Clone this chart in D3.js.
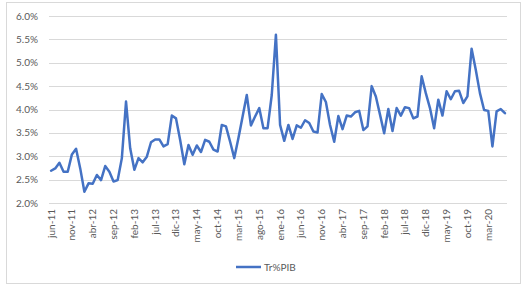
<!DOCTYPE html>
<html>
<head>
<meta charset="utf-8">
<script src="https://cdn.jsdelivr.net/npm/d3@7"></script>
<style>
  body { margin: 0; background: #fff; }
  svg { font-family: Lato, "Open Sans", sans-serif; }
</style>
</head>
<body>
<svg id="chart"></svg>
<script>
// months, jun-11 .. jul-20
const categories = [
  "jun-11","jul-11","ago-11","sep-11","oct-11","nov-11","dic-11",
  "ene-12","feb-12","mar-12","abr-12","may-12","jun-12","jul-12","ago-12","sep-12","oct-12","nov-12","dic-12",
  "ene-13","feb-13","mar-13","abr-13","may-13","jun-13","jul-13","ago-13","sep-13","oct-13","nov-13","dic-13",
  "ene-14","feb-14","mar-14","abr-14","may-14","jun-14","jul-14","ago-14","sep-14","oct-14","nov-14","dic-14",
  "ene-15","feb-15","mar-15","abr-15","may-15","jun-15","jul-15","ago-15","sep-15","oct-15","nov-15","dic-15",
  "ene-16","feb-16","mar-16","abr-16","may-16","jun-16","jul-16","ago-16","sep-16","oct-16","nov-16","dic-16",
  "ene-17","feb-17","mar-17","abr-17","may-17","jun-17","jul-17","ago-17","sep-17","oct-17","nov-17","dic-17",
  "ene-18","feb-18","mar-18","abr-18","may-18","jun-18","jul-18","ago-18","sep-18","oct-18","nov-18","dic-18",
  "ene-19","feb-19","mar-19","abr-19","may-19","jun-19","jul-19","ago-19","sep-19","oct-19","nov-19","dic-19",
  "ene-20","feb-20","mar-20","abr-20","may-20","jun-20","jul-20"
];

// Tr%PIB, in %
const trPib = [
  2.69, 2.74, 2.86, 2.67, 2.67, 3.04, 3.16,
  2.74, 2.24, 2.42, 2.41, 2.60, 2.49, 2.79, 2.67, 2.46, 2.49, 2.96, 4.17,
  3.17, 2.71, 2.96, 2.87, 2.99, 3.30, 3.36, 3.36, 3.21, 3.26, 3.87, 3.81,
  3.35, 2.83, 3.24, 3.03, 3.23, 3.09, 3.35, 3.31, 3.14, 3.10, 3.67, 3.64,
  3.31, 2.96, 3.39, 3.85, 4.31, 3.66, 3.85, 4.03, 3.60, 3.60, 4.31, 5.60,
  3.67, 3.33, 3.67, 3.37, 3.66, 3.61, 3.77, 3.71, 3.53, 3.51, 4.33, 4.16,
  3.67, 3.31, 3.86, 3.58, 3.87, 3.85, 3.94, 3.97, 3.56, 3.64, 4.50, 4.28,
  3.89, 3.49, 4.01, 3.54, 4.03, 3.87, 4.05, 4.03, 3.81, 3.85, 4.71, 4.35,
  4.03, 3.60, 4.21, 3.87, 4.39, 4.22, 4.39, 4.40, 4.14, 4.28, 5.30, 4.85,
  4.35, 3.99, 3.97, 3.21, 3.96, 4.01, 3.92
];

const yTicks = [2.0, 2.5, 3.0, 3.5, 4.0, 4.5, 5.0, 5.5, 6.0];
const seriesName = "Tr%PIB";

const W = 526, H = 287;
const margin = { top: 16, right: 19, bottom: 84, left: 49 };

const svg = d3.select("#chart")
  .attr("width", W)
  .attr("height", H);

// chart area border
svg.append("rect")
  .attr("x", 6.5).attr("y", 2.5)
  .attr("width", 514).attr("height", 281)
  .attr("fill", "#fff")
  .attr("stroke", "#d9d9d9");

const x = d3.scaleBand()
  .domain(categories)
  .range([margin.left, W - margin.right]);

const y = d3.scaleLinear()
  .domain([2.0, 6.0])
  .range([H - margin.bottom, margin.top]);

// gridlines
svg.append("g")
  .selectAll("line")
  .data(yTicks)
  .enter()
  .append("line")
  .attr("x1", margin.left)
  .attr("x2", W - margin.right)
  .attr("y1", d => Math.round(y(d)) + 0.5)
  .attr("y2", d => Math.round(y(d)) + 0.5)
  .attr("stroke", "#d9d9d9")
  .attr("stroke-width", 1);

// y labels
svg.append("g")
  .selectAll("text")
  .data(yTicks)
  .enter()
  .append("text")
  .attr("x", 38)
  .attr("y", d => y(d))
  .attr("dy", "0.35em")
  .attr("text-anchor", "end")
  .attr("fill", "#595959")
  .style("font-size", "10px")
  .text(d => d.toFixed(1) + "%");

// x labels, every 5th month
const xLabels = categories.filter((d, i) => i % 5 === 0);
svg.append("g")
  .selectAll("text")
  .data(xLabels)
  .enter()
  .append("text")
  .attr("transform", d => `translate(${x(d) + x.bandwidth() / 2}, ${H - margin.bottom + 6}) rotate(-90)`)
  .attr("text-anchor", "end")
  .attr("dy", "0.35em")
  .attr("fill", "#595959")
  .style("font-size", "10px")
  .text(d => d);

// series line
const line = d3.line()
  .x((d, i) => x(categories[i]) + x.bandwidth() / 2)
  .y(d => y(d));

svg.append("path")
  .datum(trPib)
  .attr("d", line)
  .attr("fill", "none")
  .attr("stroke", "#4472c4")
  .attr("stroke-width", 2.5)
  .attr("stroke-linejoin", "round")
  .attr("stroke-linecap", "round");

// legend
const legend = svg.append("g").attr("transform", "translate(236, 267)");
legend.append("line")
  .attr("x1", 0).attr("x2", 25)
  .attr("stroke", "#4472c4")
  .attr("stroke-width", 2.5);
legend.append("text")
  .attr("x", 28)
  .attr("dy", "0.35em")
  .attr("fill", "#595959")
  .style("font-size", "10px")
  .text(seriesName);
</script>
</body>
</html>
